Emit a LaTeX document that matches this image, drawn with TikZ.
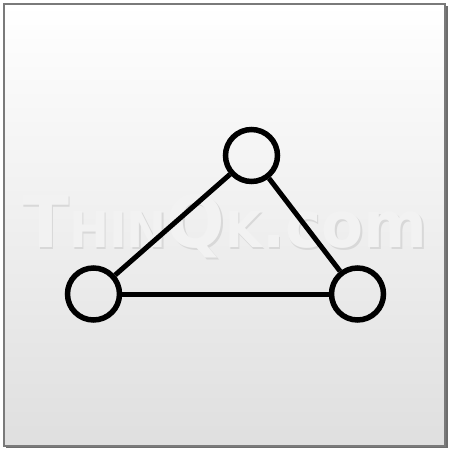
\documentclass[tikz,border=0pt]{standalone}
\usepackage{fontspec}
\usepackage{graphicx}
\newfontfamily\wmfont{DejaVu Sans}
\definecolor{framegray}{HTML}{7A7A7A}
\definecolor{bgbottom}{HTML}{DFDFDF}
\definecolor{wmfill}{HTML}{F2F2F2}
\definecolor{wmshadow}{HTML}{D8D8D8}
\tikzset{
  ring/.style={circle, draw=black, line width=5.5pt, minimum size=52pt, inner sep=0pt, fill=none},
  edge/.style={draw=black, line width=5pt},
  wm/.style={font=\wmfont\bfseries, inner sep=0pt, anchor=base west}
}
\newcommand{\wmtext}{\scalebox{0.955}[1]{{\fontsize{72}{72}\selectfont T}{\fontsize{50}{50}\selectfont HIN}{\fontsize{72}{72}\selectfont Q}{\fontsize{50}{50}\selectfont K}{\fontsize{64}{64}\selectfont .com}}}
\begin{document}
\begin{tikzpicture}[x=1pt,y=-1pt]
\useasboundingbox (0,0) rectangle (450,450);
\fill[white] (0,0) rectangle (450,450);
% shadow
\fill[framegray!90!black] (6,6) rectangle (448,448);
% panel
\shade[top color=white, bottom color=bgbottom] (4,4) rectangle (445,446);
\draw[framegray, line width=2pt] (4,4) rectangle (445,446);
% watermark
\node[wm, text=wmshadow] (wms) at (23.5,249) {\wmtext};
\node[wm, text=wmfill] (wmt) at (22,247.5) {\wmtext};
% graph
\node[ring] (top) at (251.5,155.5) {};
\node[ring] (left) at (93.5,294) {};
\node[ring] (right) at (357.5,294) {};
\draw[edge] (left) -- (top);
\draw[edge] (top) -- (right);
\draw[edge] (left) -- (right);
\end{tikzpicture}
\end{document}
